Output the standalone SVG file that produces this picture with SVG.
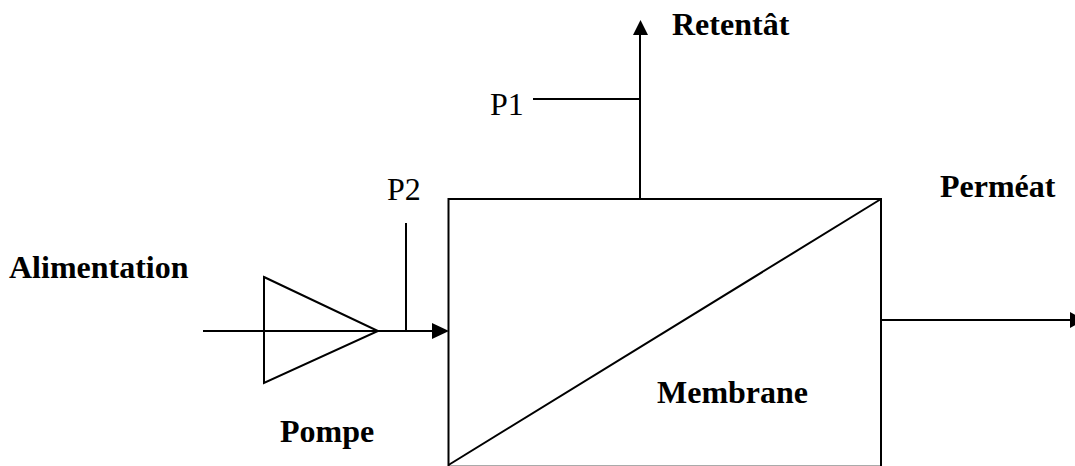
<svg xmlns="http://www.w3.org/2000/svg" width="1075" height="466" viewBox="0 0 1075 466">
<style>
.l{fill:none;stroke:#000;stroke-width:2}
.h{fill:#000;stroke:none}
text{font-family:"Liberation Serif","Times New Roman",serif;font-size:32px;fill:#000}
.b{font-weight:bold}
</style>
<rect width="1075" height="466" fill="#fff"/>
<g id="connectors">
<path class="l" d="M203 331H264"/>
<path class="l" d="M378 331H434"/>
<path class="h" d="M432 323L449 331L432 339Z"/>
<path class="l" d="M406 331V223"/>
<path class="l" d="M640 199V34"/>
<path class="h" d="M633 35L640.500 20L648 35Z"/>
<path class="l" d="M533 99H640"/>
<path class="l" d="M881 320H1071"/>
<path class="h" d="M1070 312L1085 320L1070 328Z"/>
</g>
<g id="pompe"><path class="l" d="M264 277L378 331L264 383Z"/><path class="l" d="M264 331H378"/><text class="b" x="280" y="442">Pompe</text></g>
<g id="membrane"><path d="M449 465.500H881" fill="none" stroke="#aaa" stroke-width="1"/><path class="l" d="M448.500 466V199H881V466"/><path class="l" d="M448.500 465L881 199"/><text class="b" x="657" y="403">Membrane</text></g>
<g id="alimentation"><text class="b" x="9" y="278">Alimentation</text></g>
<g id="retentat"><text class="b" x="672" y="35">Retentât</text></g>
<g id="permeat"><text class="b" x="940" y="197">Perméat</text></g>
<g id="p1"><text x="490" y="115">P1</text></g>
<g id="p2"><text x="387" y="200">P2</text></g>
</svg>
